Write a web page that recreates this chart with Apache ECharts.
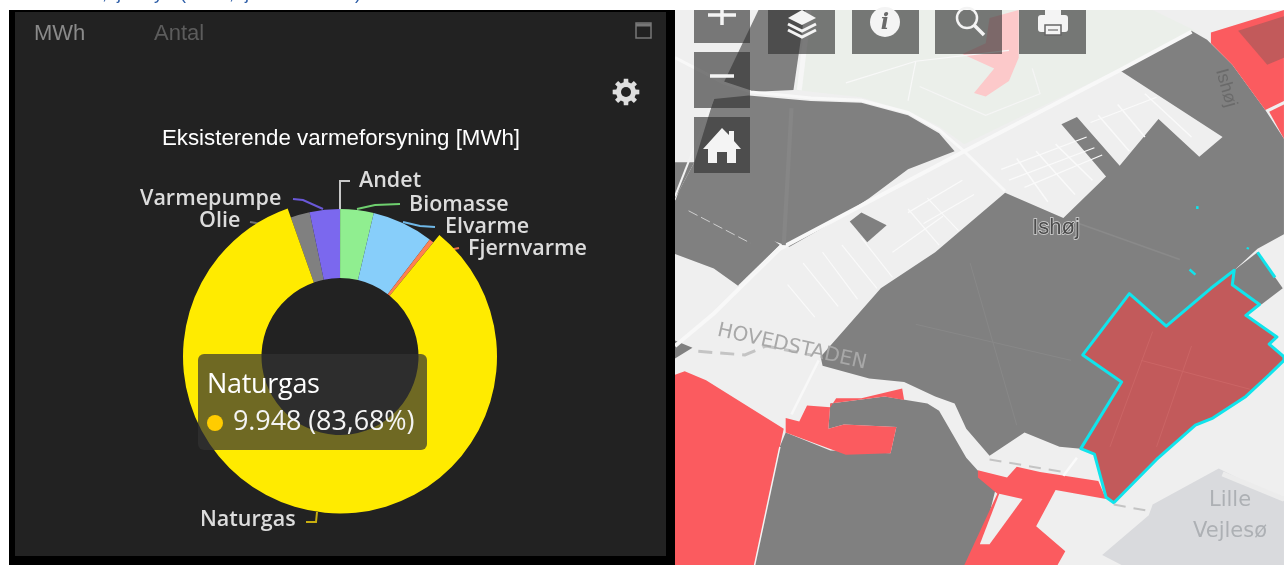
<!DOCTYPE html>
<html><head><meta charset="utf-8">
<style>html,body{margin:0;padding:0;background:#fff;overflow:hidden}#c{width:1284px;height:565px}</style>
<script src="https://cdn.jsdelivr.net/npm/echarts@6/dist/echarts.min.js"></script>
</head><body><div id="c"></div>
<script>
// ---- chart data ----
const categories = ['Andet','Biomasse','Elvarme','Fjernvarme','Naturgas','Olie','Varmepumpe'];
const values     = [2, 435, 800, 60, 9948, 250, 393];
const sliceColors= ['#cfcfcf','#90ee90','#87cefa','#ff7f50','#ffeb00','#808080','#7b68ee'];
const lineColors = ['#c8c8c8','#6fd06f','#6fb8e8','#e8704a','#c8ae10','#707070','#6a58d8'];
const chartTitle = 'Eksisterende varmeforsyning [MWh]';
const tabs = ['MWh','Antal'];
const highlighted = 4;

// ---- label layout (screen placement of the pie labels) ----
const labelPos = [[359,181],[409,205],[445,227],[468,249],[140,199],[199,221],[200,520]];
const labelAt  = {Andet:0,Biomasse:1,Elvarme:2,Fjernvarme:3,Varmepumpe:4,Olie:5,Naturgas:6};
const leader = {
  Andet:[[340,209],[340,181],[350,181]],
  Biomasse:[[357,209],[375,205],[400,204]],
  Elvarme:[[403,222],[420,226],[435,227]],
  Fjernvarme:[[450,251],[454,249],[459,248]],
  Varmepumpe:[[323,209],[303,200],[293,199]],
  Olie:[[263,224],[256,223],[250,222]],
  Naturgas:[[317,512],[316,522],[306,522]]
};
// clipped line of page text above the panel: only the descenders show
const clippedGlyphs = [[',',102],['j',117],['y',154],['(',180],[',',229],['j',245],[')',355]];

// ---- map backdrop helpers (zoomed-crop coordinates to screen) ----
const P = a => { const o=[]; for(let i=0;i<a.length;i+=2) o.push([675+a[i]/2.575, a[i+1]/2.775]); return o; };
const poly=(a,fill,extra)=>Object.assign({type:'polygon',silent:true,shape:{points:P(a)},style:{fill:fill}},extra||{});
const line=(a,stroke,w,extra)=>({type:'polyline',silent:true,shape:{points:P(a)},style:Object.assign({stroke:stroke,lineWidth:w,fill:null,lineCap:'butt'},extra||{})});
const GRAY='#808080', RED='#fb5b5f', DEEP='#c25a5b', CYAN='#10e4ec';

const map=[
 {type:'rect',silent:true,shape:{x:675,y:10,width:609,height:555},style:{fill:'#efefef'}},
 poly([350,28,1230,28,1340,85,1145,190,745,400,680,350,600,310,480,270,310,250],'#ebefea'),
 poly([1230,1400,1400,1300,1568,1390,1568,1568,1150,1568,1100,1540,1220,1430],'#d9dadd'),
 line([1410,1315,1568,1385],'#ececec',5),
 poly([810,50,885,28,885,160,860,225,800,268,770,258,822,190,740,150,800,120],'#fcc9ca'),
 poly([215,28,335,28,305,250,195,255,125,230],GRAY),
 poly([100,275,190,265,350,280,480,285,600,320,680,370,720,420,600,470,500,550,400,620,295,685,245,665,200,680,40,585,0,560,10,530,50,450],GRAY),
 poly([0,450,50,450,10,530,0,550],GRAY),
 poly([0,555,40,578,200,675,245,660,270,680,165,795,100,745,0,705],GRAY),
 poly([450,615,480,590,545,625,495,672],GRAY),
 poly([0,945,45,965,0,995],GRAY),
 poly([850,535,1000,605,1110,490,995,345,1035,325,1145,460,1245,330,1350,435,1410,380,1145,195,1330,85,1370,110,1435,180,1520,305,1568,385,1568,650,1500,690,1440,750,1380,800,1265,905,1170,815,1050,985,1150,1060,1045,1245,990,1240,900,1200,810,1265,750,1190,720,1120,670,1100,590,1060,500,1050,380,1015,375,990,530,800,670,700],GRAY),
 poly([1440,750,1500,700,1565,800,1510,845,1435,790],GRAY),
 poly([285,1200,400,1250,555,1258,570,1185,435,1178,395,1190,400,1120,540,1100,650,1120,680,1140,750,1270,825,1360,790,1510,750,1568,200,1568,270,1240],GRAY),
 // red areas
 poly([0,1040,25,1030,80,1055,280,1190,270,1240,205,1568,0,1568],RED),
 poly([285,1160,320,1170,340,1125,400,1130,415,1105,480,1105,585,1078,590,1110,540,1100,400,1120,395,1190,435,1178,570,1185,555,1258,440,1262,285,1200],RED),
 poly([780,1305,855,1325,880,1295,940,1310,1090,1335,1110,1385,980,1360,930,1460,1005,1530,985,1568,745,1568,830,1370,780,1325],RED),
 poly([835,1370,895,1385,810,1510,785,1510],'#efefef'),
 poly([1380,90,1568,28,1568,280,1520,305,1435,180,1380,120],RED),
 poly([1450,85,1568,45,1568,160,1525,180],DEEP),
 poly([1530,310,1568,290,1568,385],RED),
 // selected district with cyan outline
 poly([1170,815,1265,905,1380,800,1440,750,1435,790,1505,845,1470,875,1550,935,1530,955,1568,990,1568,1000,1530,1040,1470,1100,1385,1160,1340,1180,1240,1275,1130,1395,1110,1380,1080,1260,1045,1245,1150,1060,1050,985],DEEP,{style:{fill:DEEP,stroke:CYAN,lineWidth:3,lineJoin:'round'}}),
 line([1500,700,1545,770],CYAN,3),
 line([1345,572,1345,580],CYAN,2.5),
 line([1325,748,1340,762],CYAN,2.5),
 line([1472,688,1478,690],CYAN,2),
 // roads
 line([0,160,125,230,195,255,350,272,480,278,600,312,680,360,745,420,850,530],'#f8f8f8',3),
 line([0,960,100,870,270,690,480,570,745,420,1145,195,1330,88],'#f8f8f8',4),
 line([345,28,320,250],'#f6f6f6',5),
 line([100,270,0,545],'#f2f2f2',2),
 line([275,680,165,795],'#f6f6f6',3),
 line([370,1000,300,1150],'#f8f8f8',2.5),
 line([270,1240,205,1568],'#f4f4f4',1.5),
 line([1035,1270,1000,1320],'#fafafa',2.5),
 line([35,585,195,675],'#cfcfcf',1,{lineDash:[10,4]}),
 // residential streets
 line([880,440,960,560],'#fafafa',1.5), line([930,420,1030,540],'#fafafa',1.5), line([980,400,1075,500],'#fafafa',1.5),
 line([840,470,1060,380],'#fafafa',1.2), line([900,520,1100,430],'#fafafa',1.2), line([860,500,1080,410],'#fafafa',1.2),
 line([1090,320,1170,420],'#fafafa',1.5), line([1140,290,1210,380],'#fafafa',1.5), line([1210,260,1330,380],'#fafafa',1.5), line([1070,340,1240,270],'#fafafa',1.2),
 line([600,590,740,500],'#fafafa',1.2), line([640,620,770,540],'#fafafa',1.2), line([560,700,690,600],'#fafafa',1.2),
 line([600,580,680,680],'#fafafa',1.2), line([650,550,730,640],'#fafafa',1.2),
 line([380,700,470,830],'#fafafa',1.2), line([430,680,520,800],'#fafafa',1.2), line([480,660,560,770],'#fafafa',1.2), line([330,730,420,850],'#fafafa',1.2), line([290,790,360,880],'#fafafa',1.2),
 line([620,170,600,280],'#f8f8f8',1.2), line([440,230,620,170,860,140],'#f8f8f8',1.2), line([630,240,800,320,940,260,920,190],'#f5f5f5',1.2),
 // municipal boundary
 line([60,975,180,985,235,960,350,985],'#c4c4c4',3,{lineDash:[14,8]}),
 line([810,1275,1000,1310],'#c4c4c4',2,{lineDash:[12,8]}),
 line([1130,1400,1230,1420],'#c4c4c4',2,{lineDash:[12,8]}),
 // subtle streets on gray
 line([1040,620,1300,720],'#8a8a8a',1.5), line([300,300,280,680],'#868686',4), line([620,900,1020,1000],'#888',1), line([760,730,880,1180],'#888',1),
 line([1200,1000,1480,1080],'#cb6565',1), line([1230,920,1120,1240],'#cb6565',1), line([1330,960,1240,1240],'#cb6565',1),
];
const mapText=(t,x,y,font,fill,rot,extra)=>({type:'text',silent:true,x:x,y:y,rotation:rot||0,
  style:Object.assign({text:t,font:font,fill:fill,align:'center',verticalAlign:'middle'},extra||{})});
const labels=[
 mapText('Ishøj',1056,228,'22px "Liberation Sans"','#4c4c4c',0,{stroke:'#d8d8d8',lineWidth:1.5}),
 mapText('Ishøj',1226,88,'18px "Liberation Sans"','#6a6a6a',-1.3),
 mapText('HOVEDSTADEN',792,347,'20px "DejaVu Sans"','#a8a8a8',-0.22,{}),
 mapText('Lille',1230,501,'21px "DejaVu Sans"','#adb0b4'),
 mapText('Vejlesø',1230,532,'21px "DejaVu Sans"','#adb0b4'),
];

// ---- toolbar ----
const BTN='rgba(45,45,45,0.62)', W='#f4f4f4';
const btn=(x,y,w,h)=>({type:'rect',silent:true,shape:{x,y,width:w,height:h},style:{fill:BTN}});
const l=(x1,y1,x2,y2,w,c)=>({type:'line',silent:true,shape:{x1,y1,x2,y2},style:{stroke:c||W,lineWidth:w}});
const pg=(pts,f)=>({type:'polygon',silent:true,shape:{points:pts},style:{fill:f||W}});
const diamond=(cx,cy,rw,rh,c)=>({type:'polyline',silent:true,shape:{points:[[cx-rw,cy],[cx,cy+rh],[cx+rw,cy]]},style:{stroke:c||W,lineWidth:3,fill:null}});
const toolbar=[
 btn(694,10,56,33),btn(694,52,56,56),btn(694,117,56,56),
 btn(768,10,67,44),btn(852,10,67,44),btn(935,10,67,44),btn(1019,10,67,44),
 l(722,10,722,25,3.5),l(708,15,736,15,3.5),
 l(710,76,734,76,3.5),
 pg([[722,128],[729,135],[729,131],[734,131],[734,141],[741,149],[736,149],[736,163],[727,163],[727,152],[717,152],[717,163],[708,163],[708,149],[703,149]]),
 pg([[802,10],[816,18],[802,25],[788,18]]),diamond(802,24,14,7),diamond(802,30,14,7),
 {type:'circle',silent:true,shape:{cx:885,cy:22,r:15},style:{fill:W}},
 mapText('i',885,23,'italic bold 22px "DejaVu Serif"','#6a6a6a'),
 {type:'circle',silent:true,shape:{cx:967,cy:18,r:10},style:{fill:null,stroke:W,lineWidth:2.5}},
 l(974,25,984,35,3.5),
 {type:'rect',silent:true,shape:{x:1038,y:15,width:30,height:17,r:3},style:{fill:W}},
 {type:'rect',silent:true,shape:{x:1045,y:10,width:16,height:8},style:{fill:W}},
 {type:'rect',silent:true,shape:{x:1045,y:25,width:16,height:10},style:{fill:W,stroke:'#666',lineWidth:1.5}},
 l(1048,30,1058,30,1.5,'#888'),
];

// ---- panel chrome ----
function gear(cx,cy,ro,ri){const p=[];const n=8;for(let i=0;i<n;i++){const a=i/n*Math.PI*2;const d=Math.PI/n;
  [[ri,a-d*0.62],[ro,a-d*0.42],[ro,a+d*0.42],[ri,a+d*0.62]].forEach(q=>p.push([cx+q[0]*Math.cos(q[1]),cy+q[0]*Math.sin(q[1])]));}
  return p;}
const chrome=[
 {type:'rect',silent:true,shape:{x:9,y:10,width:666,height:555},style:{fill:'#000'}},
 {type:'rect',silent:true,shape:{x:15,y:12,width:651,height:544},style:{fill:'#222'}},
 {type:'text',silent:true,x:34,y:34,style:{text:tabs[0],font:'22px "Liberation Sans"',fill:'#8a8a8a',align:'left',verticalAlign:'middle'}},
 {type:'text',silent:true,x:154,y:34,style:{text:tabs[1],font:'22px "Liberation Sans"',fill:'#5c5c5c',align:'left',verticalAlign:'middle'}},
 {type:'rect',silent:true,shape:{x:636,y:23,width:15,height:15},style:{fill:null,stroke:'#777',lineWidth:1.5}},
 l(636,25,651,25,3,'#777'),
 pg(gear(626,92,13.5,10),'#dedede'),
 {type:'circle',silent:true,shape:{cx:626,cy:92,r:5},style:{fill:'#222'}},
].concat(clippedGlyphs.map(g=>({type:'text',silent:true,x:g[1],y:-15,
  style:{text:g[0],font:'18px "Liberation Sans"',fill:'#2f5fa8',align:'left',verticalAlign:'top'}})));

const chart=echarts.init(document.getElementById('c'),null,{renderer:'canvas'});
const total=values.reduce((a,b)=>a+b,0);
const fmt=v=>String(v).replace(/\B(?=(\d{3})+$)/g,'.');
chart.setOption({
 animation:false,
 backgroundColor:'#fff',
 title:{text:chartTitle,left:341,top:123,textAlign:'center',
   textStyle:{color:'#fff',fontFamily:'Liberation Sans',fontSize:22.3,fontWeight:'normal'},padding:[5,5,5,0]},
 graphic:{elements:[].concat(map,labels,toolbar,chrome)},
 tooltip:{trigger:'item',triggerOn:'none',alwaysShowContent:true,confine:false,transitionDuration:0,
   position:[198,354],backgroundColor:'rgba(50,50,50,0.7)',borderWidth:0,borderRadius:6,padding:0,
   extraCssText:'box-shadow:none;width:229px;height:96px;box-sizing:border-box;padding:11px 9px;',
   formatter:p=>`<div style="font:27px/36px 'Open Sans';color:#fff;letter-spacing:-0.3px">${p.name}</div>`+
     `<div style="font:27px/38px 'Open Sans';color:#f4f4f4;letter-spacing:-0.1px;white-space:nowrap"><span style="display:inline-block;width:16px;height:16px;border-radius:8px;background:#ffcc00;margin-right:10px;vertical-align:-1px"></span>${fmt(p.value)} (${(p.value/total*100).toFixed(2).replace('.',',')}%)</div>`},
 series:[{
   type:'pie',center:[340,356.5],radius:[78.5,147.5],startAngle:90,clockwise:true,minAngle:0,
   avoidLabelOverlap:false,stillShowZeroSum:true,
   itemStyle:{borderWidth:0},
   data:categories.map((n,i)=>({name:n,value:values[i],itemStyle:{color:sliceColors[i]},
     emphasis:{itemStyle:{color:sliceColors[i]}},
     labelLine:{lineStyle:{color:lineColors[i],width:2}}})),
   label:{show:true,color:'#dcdcdc',fontFamily:'Open Sans',fontWeight:600,fontSize:21.5,textBorderWidth:0},
   labelLine:{show:true,length:10,length2:10,smooth:false},
   emphasis:{scale:true,scaleSize:9.5,label:{show:true,color:'#dcdcdc',fontSize:21.5,fontWeight:600},focus:'none'},
   labelLayout:p=>{
     const n=categories[p.dataIndex]; const q=labelPos[labelAt[n]];
     return {x:q[0],y:q[1],align:'left',verticalAlign:'middle',labelLinePoints:leader[n]};
   }
 }]
});
chart.dispatchAction({type:'highlight',seriesIndex:0,dataIndex:highlighted});
chart.dispatchAction({type:'showTip',seriesIndex:0,dataIndex:highlighted});
</script></body></html>
